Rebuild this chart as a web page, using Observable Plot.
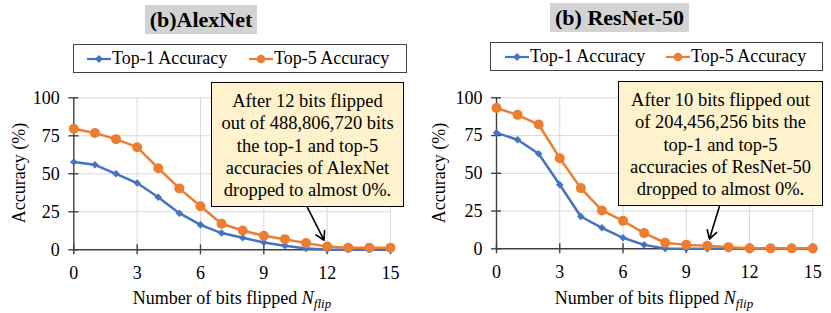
<!DOCTYPE html>
<html><head><meta charset="utf-8">
<script src="https://cdn.jsdelivr.net/npm/d3@7"></script>
<script src="https://cdn.jsdelivr.net/npm/@observablehq/plot@0.6"></script>
<style>
body{margin:0;background:#fff;}
#root{position:relative;width:831px;height:313px;overflow:hidden;font-family:"Liberation Serif","Times New Roman",serif;color:#000;}
#root svg.plot{position:absolute;top:0;}
.title{position:absolute;background:#d3d3d3;font-weight:bold;font-size:22px;line-height:29px;text-align:center;white-space:nowrap;}
.legend{position:absolute;box-sizing:border-box;border:1px solid #404040;background:#fff;font-size:18px;height:29px;}
.legend .item{position:absolute;top:0;height:27px;line-height:27px;white-space:nowrap;}
.legend svg{position:absolute;top:0;}
.callout{position:absolute;box-sizing:border-box;background:#fff2cc;border:1.6px solid #000;font-size:18.5px;line-height:22.3px;text-align:center;padding-top:7px;white-space:nowrap;}
.ylab{position:absolute;font-size:18px;white-space:nowrap;transform:translate(-50%,-50%) rotate(-90deg);}
.xlab{position:absolute;font-size:18px;white-space:nowrap;transform:translate(-50%,-50%);}
.xlab sub{font-size:13px;vertical-align:-4px;line-height:0;}
</style></head><body><div id="root"></div>
<script>
// ---- data ----
const flips = [0,1,2,3,4,5,6,7,8,9,10,11,12,13,14,15];
const alexTop1 = [57.7,55.9,50.0,43.9,34.6,24.1,16.4,11.0,7.9,4.8,2.6,0.9,0.2,0.1,0.1,0.1];
const alexTop5 = [79.6,76.8,72.8,67.5,53.7,40.4,28.7,17.1,12.7,9.2,7.0,4.4,2.2,1.3,1.3,1.3];
const resTop1  = [76.8,72.2,62.9,42.4,21.4,13.9,7.3,2.6,0.2,0.1,0.1,0.1,0.1,0.1,0.1,0.1];
const resTop5  = [93.2,88.7,82.3,60.0,40.2,25.4,18.5,10.4,4.0,2.6,2.0,1.1,0.3,0.3,0.3,0.3];
const seriesNames = ["Top-1 Accuracy","Top-5 Accuracy"];
const xTicks = [0,3,6,9,12,15];
const yTicks = [0,25,50,75,100];
const titles = ["(b)AlexNet","(b) ResNet-50"];
const notes = [
  ["After 12 bits flipped","out of 488,806,720 bits","the top-1 and top-5","accuracies of AlexNet","dropped to almost 0%."],
  ["After 10 bits flipped out","of 204,456,256 bits the","top-1 and top-5","accuracies of ResNet-50","dropped to almost 0%."]
];
const noteTargets = [12, 10];   // N_flip value the arrow points to
const yLabel = "Accuracy (%)";

const BLUE = "#4472c4", ORANGE = "#ed7d31", AXIS = "#404040", GRID = "#d9d9d9";
const root = document.getElementById("root");

function panel(cfg) {
  const {top1, top5, left, width, mL, mR, mT, mB, arrowFrom, target} = cfg;
  const d1 = flips.map((f,i)=>({f, v: top1[i]}));
  const d5 = flips.map((f,i)=>({f, v: top5[i]}));
  const tIdx = flips.indexOf(target);
  const arrowData = [{x1: arrowFrom[0], y1: arrowFrom[1], x2: target, y2: top5[tIdx]}];
  const svg = Plot.plot({
    width, height: 313,
    marginLeft: mL, marginRight: mR, marginTop: mT, marginBottom: mB,
    style: {fontFamily: '"Liberation Serif","Times New Roman",serif', fontSize: "18px", color: "#000", background: "transparent", overflow: "visible"},
    x: {domain: [0, 15], ticks: xTicks, tickSize: 0, tickPadding: 16, label: null},
    y: {domain: [0, 100], ticks: yTicks, tickSize: 0, tickPadding: 14, label: null},
    marks: [
      Plot.gridX(xTicks.filter(d => d > 0), {stroke: GRID, strokeOpacity: 1, strokeWidth: 1}),
      Plot.gridY(yTicks.filter(d => d > 0), {stroke: GRID, strokeOpacity: 1, strokeWidth: 1}),
      Plot.ruleX([0], {stroke: AXIS, strokeWidth: 1.4}),
      Plot.ruleY([0], {stroke: AXIS, strokeWidth: 1.4}),
      Plot.ruleY(yTicks, {y: d => d, x1: () => 0, x2: () => 0, insetLeft: -5, insetRight: -5, stroke: AXIS, strokeWidth: 1.4}),
      Plot.ruleX(xTicks, {x: d => d, y1: () => 0, y2: () => 0, insetTop: -5, insetBottom: -5, stroke: AXIS, strokeWidth: 1.4}),
      Plot.line(d1, {x: "f", y: "v", stroke: BLUE, strokeWidth: 2.5}),
      Plot.line(d5, {x: "f", y: "v", stroke: ORANGE, strokeWidth: 2.5}),
      Plot.dot(d1, {x: "f", y: "v", symbol: "diamond2", fill: BLUE, r: 3.4, stroke: "none"}),
      Plot.dot(d5, {x: "f", y: "v", symbol: "circle", fill: ORANGE, r: 5, stroke: "none"}),
      Plot.arrow(arrowData, {x1: "x1", y1: "y1", x2: "x2", y2: "y2", stroke: "#000", strokeWidth: 1.6, headLength: 9, insetEnd: 7})
    ]
  });
  svg.classList.add("plot");
  svg.style.left = left + "px";
  root.appendChild(svg);
}

function addDiv(cls, html, css) {
  const d = document.createElement("div");
  d.className = cls; d.innerHTML = html;
  Object.assign(d.style, css);
  root.appendChild(d);
  return d;
}

function legend(x, y, w, pos) {
  const lg = addDiv("legend", "", {left: x+"px", top: y+"px", width: w+"px"});
  const sw = (dx, color, sym) => {
    const s = document.createElementNS("http://www.w3.org/2000/svg","svg");
    s.setAttribute("width", 26); s.setAttribute("height", 27);
    s.style.left = dx + "px";
    const shape = sym === "circle"
      ? `<circle cx="13" cy="14" r="4.3" fill="${color}"/>`
      : `<path d="M13,10L17,14L13,18L9,14Z" fill="${color}"/>`;
    s.innerHTML = `<line x1="1" x2="25" y1="14" y2="14" stroke="${color}" stroke-width="2.2"/>` + shape;
    lg.appendChild(s);
  };
  sw(pos[0], BLUE, "diamond");
  const t1 = document.createElement("div"); t1.className="item"; t1.textContent = seriesNames[0]; t1.style.left = (pos[0]+26)+"px"; lg.appendChild(t1);
  sw(pos[1], ORANGE, "circle");
  const t2 = document.createElement("div"); t2.className="item"; t2.textContent = seriesNames[1]; t2.style.left = (pos[1]+26)+"px"; lg.appendChild(t2);
}

// ---- Left: AlexNet ----
panel({top1: alexTop1, top5: alexTop5, left: 0, width: 415, mL: 73.3, mR: 25, mT: 97.3, mB: 63.7,
       arrowFrom: [11.07, 27.8], target: noteTargets[0]});
// ---- Right: ResNet-50 ----
panel({top1: resTop1, top5: resTop5, left: 415, width: 416, mL: 81, mR: 18.7, mT: 97.3, mB: 64.7,
       arrowFrom: [10.57, 28.0], target: noteTargets[1]});

addDiv("title", titles[0], {left: "145px", top: "5px", width: "112px"});
addDiv("title", titles[1], {left: "550px", top: "3px", width: "139px"});
legend(73, 44, 334, [12, 174]);
legend(490, 42, 333, [13, 174]);
addDiv("callout", notes[0].join("<br>"), {left: "211px", top: "82px", width: "193px", height: "125px"});
addDiv("callout", notes[1].join("<br>"), {left: "618px", top: "81px", width: "205px", height: "125px"});
addDiv("ylab", yLabel, {left: "19px", top: "173px"});
addDiv("ylab", yLabel, {left: "439px", top: "173px"});
addDiv("xlab", 'Number of bits flipped <i>N<sub>flip</sub></i>', {left: "232px", top: "298px"});
addDiv("xlab", 'Number of bits flipped <i>N<sub>flip</sub></i>', {left: "654px", top: "298px"});
</script></body></html>
